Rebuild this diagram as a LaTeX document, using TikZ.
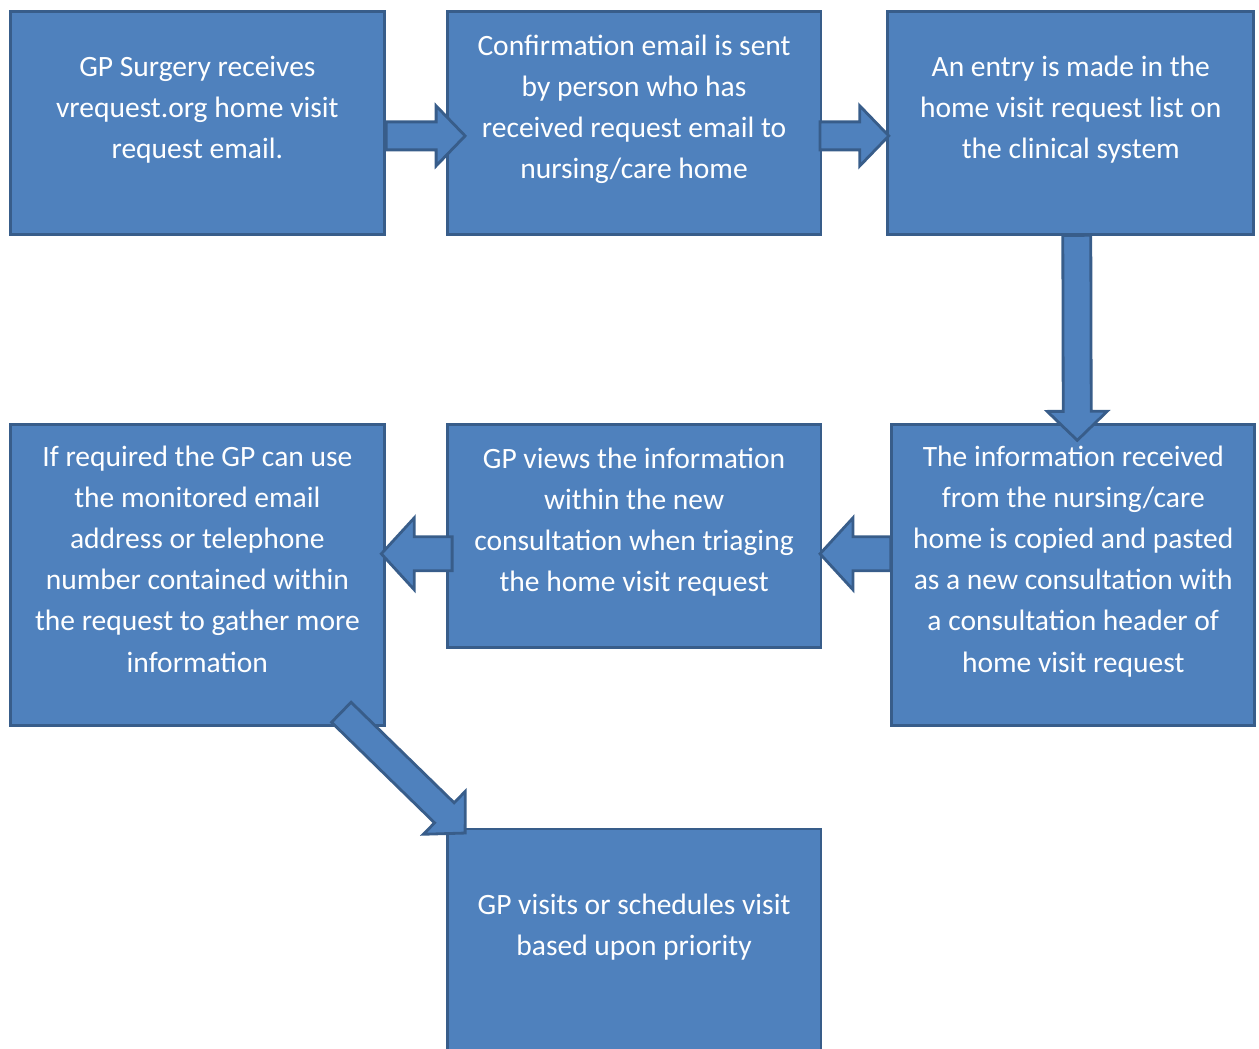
\documentclass[tikz,border=0pt]{standalone}
\usepackage{fontspec}
\setmainfont{Carlito}
\usepackage{tikz}
\usetikzlibrary{positioning,calc}
\definecolor{boxblue}{HTML}{4F81BD}
\definecolor{boxedge}{HTML}{385D8A}
\newcommand\shafthalf{0.28cm}
\newcommand\headhalf{0.6cm}
\newcommand\headlen{0.58cm}
\tikzset{sbox/.style={rectangle,draw=boxedge,fill=boxblue,line width=1.6pt,outer sep=0pt,text=white,
	   minimum width=7.48cm,minimum height=4.46cm,align=center,text depth=18pt,
	   font=\fontsize{16.8}{23.4}\selectfont},
	 tbox/.style={sbox,minimum height=6.02cm},
	 barrow/.style={draw=boxedge,fill=boxblue,line width=1.6pt,
	   to path={let \p1=(\tikztostart), \p2=(\tikztotarget), \p3=($(\p2)!\headlen!(\p1)$) in
	     ($(\p1)!\shafthalf!90:(\p2)$) -- ($(\p3)!\shafthalf!90:(\p2)$) -- ($(\p3)!\headhalf!90:(\p2)$)
	     -- (\p2) -- ($(\p3)!\headhalf!-90:(\p2)$) -- ($(\p3)!\shafthalf!-90:(\p2)$)
	     -- ($(\p1)!\shafthalf!-90:(\p2)$) -- cycle}},
	 bigarrow/.code={\def\shafthalf{0.34cm}\def\headhalf{0.72cm}\def\headlen{0.66cm}},
	 node distance=1.256cm
	 }

\begin{document}
\begin{tikzpicture}[x=0.02cm,y=-0.02cm]
	\useasboundingbox (0,0) rectangle (1259,1049);

	\node[sbox,anchor=north west] (rcv) at (10.4,11.4) {GP Surgery receives\\vrequest.org home visit\\request email.};
	\node[sbox] (conf) [right=of rcv] {Confirmation email is sent\\by person who has\\received request email to\\nursing/care home};
	\node[sbox,minimum width=7.32cm] (entry) [right=1.336cm of conf] {An entry is made in the\\home visit request list on\\the clinical system};

	\node[tbox] (ifreq) [below=3.8cm of rcv] {If required the GP can use\\the monitored email\\address or telephone\\number contained within\\the request to gather more\\information};
	\node[sbox] (view) [right=of ifreq.north east,anchor=north west] {GP views the information\\within the new\\consultation when triaging\\the home visit request};
	\node[tbox,minimum width=7.26cm] (info) [right=1.416cm of view.north east,anchor=north west] {The information received\\from the nursing/care\\home is copied and pasted\\as a new consultation with\\a consultation header of\\home visit request};

	\node[sbox] (visit) [below=3.636cm of view] {GP visits or schedules visit\\based upon priority};

	\draw[barrow] ($(rcv.east)+(2,13)$) to ($(conf.west)+(18,13)$);
	\draw[barrow] ($(conf.east)+(-1,13)$) to ($(entry.west)+(1,13)$);
	\draw[barrow] ($(entry.south)+(6,1)$) to ($(info.north)+(4,16)$);
	\draw[barrow,bigarrow] ($(info.west)+(-1,-21)$) to ($(view.east)+(-1,18)$);
	\draw[barrow,bigarrow] ($(view.west)+(5,18)$) to ($(ifreq.east)+(-3,-21)$);
	\draw[barrow] ($(ifreq.south east)+(-43,-13)$) to ($(visit.north west)+(18,4)$);
\end{tikzpicture}
\end{document}
